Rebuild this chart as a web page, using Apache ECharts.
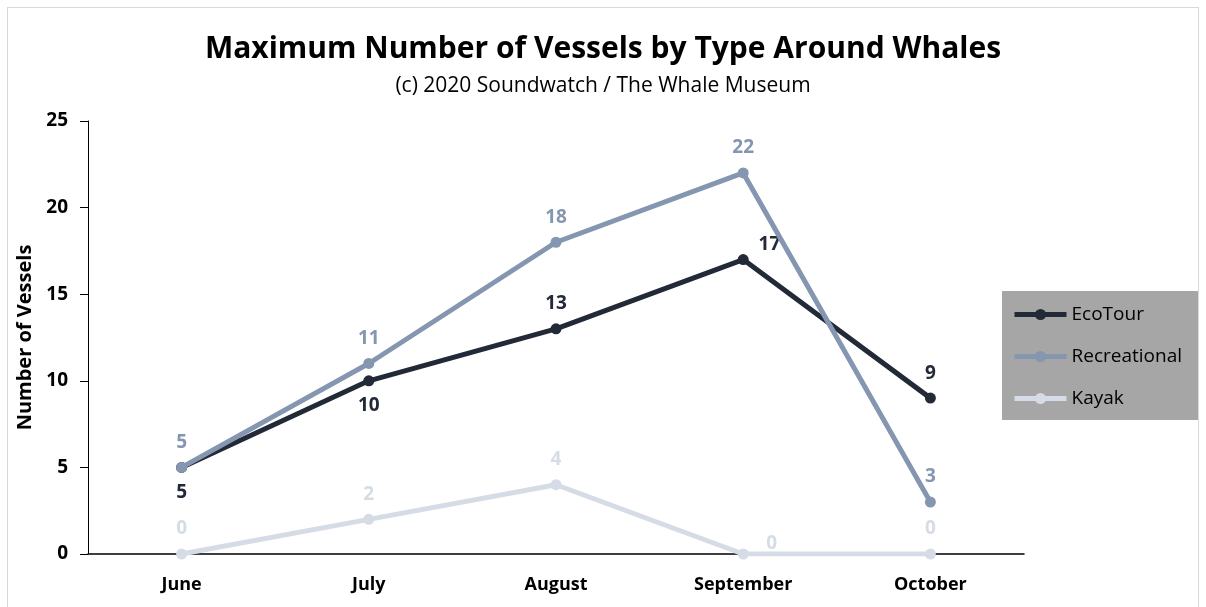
<!DOCTYPE html>
<html>
<head>
<meta charset="utf-8">
<script src="https://cdn.jsdelivr.net/npm/echarts@6/dist/echarts.min.js"></script>
<style>
  html, body { margin: 0; padding: 0; background: #fff; }
  #chart { width: 1206px; height: 607px; }
  .frame { position: absolute; left: 7px; top: 7px; width: 1190px; height: 620px; border: 1px solid #d9d9d9; pointer-events: none; }
</style>
</head>
<body>
<div id="chart"></div>
<div class="frame"></div>
<script>
// 月份
var months = ['June', 'July', 'August', 'September', 'October'];
// 各类船只最大数量
var ecoTour = [5, 10, 13, 17, 9];
var recreational = [5, 11, 18, 22, 3];
var kayak = [0, 2, 4, 0, 0];
var yTicks = [0, 5, 10, 15, 20, 25];

var FONT = '"Open Sans", "Noto Sans", sans-serif';
var myChart = echarts.init(document.getElementById('chart'));

// 单个标签位置
function pts (data, pos, color) {
  return data.map(function (v, i) {
    return {
      value: v,
      label: {
        show: true,
        position: pos[i],
        distance: 10,
        color: color,
        fontFamily: FONT,
        fontWeight: 'bold',
        fontSize: 19
      }
    };
  });
}

var option = {
  animation: false,
  title: {
    text: 'Maximum Number of Vessels by Type Around Whales',
    subtext: '(c) 2020 Soundwatch / The Whale Museum',
    left: 'center',
    top: 29,
    itemGap: 12,
    textStyle: { fontFamily: FONT, fontWeight: 'bold', fontSize: 30, color: '#000' },
    subtextStyle: { fontFamily: FONT, fontSize: 21, color: '#000' }
  },
  legend: {
    orient: 'vertical',
    left: 1002,
    top: 291,
    backgroundColor: '#a6a6a6',
    padding: [14, 16, 12, 10],
    itemWidth: 52,
    itemHeight: 14,
    itemGap: 23,
    lineStyle: { width: 5 },
    textStyle: { fontFamily: FONT, fontSize: 19, color: '#000' },
    data: ['EcoTour', 'Recreational', 'Kayak']
  },
  grid: {
    left: 88,
    right: 182,
    top: 121,
    bottom: 53
  },
  xAxis: {
    type: 'category',
    data: months,
    boundaryGap: true,
    axisLine: { lineStyle: { color: '#000', width: 1.5 } },
    axisTick: { show: false },
    axisLabel: { margin: 22, color: '#000', fontFamily: FONT, fontWeight: 'bold', fontSize: 18 }
  },
  yAxis: {
    type: 'value',
    min: yTicks[0],
    max: yTicks[yTicks.length - 1],
    interval: 5,
    name: 'Number of Vessels',
    nameLocation: 'middle',
    nameGap: 50,
    nameTextStyle: { fontFamily: FONT, fontWeight: 'bold', fontSize: 20, color: '#000' },
    axisLine: { show: true, lineStyle: { color: '#000', width: 1 } },
    axisTick: { show: true, length: 8, lineStyle: { color: '#000' } },
    splitLine: { show: false },
    axisLabel: { margin: 20, color: '#000', fontFamily: FONT, fontWeight: 'bold', fontSize: 19 }
  },
  series: [
    {
      name: 'Kayak',
      type: 'line',
      z: 2,
      symbol: 'circle',
      symbolSize: 11,
      color: '#d6dce5',
      lineStyle: { width: 5, color: '#d6dce5' },
      data: pts(kayak, ['top', 'top', 'top', ['260%', '-130%'], 'top'], '#d6dce5')
    },
    {
      name: 'EcoTour',
      type: 'line',
      z: 3,
      symbol: 'circle',
      symbolSize: 11,
      color: '#222a38',
      lineStyle: { width: 5, color: '#222a38' },
      data: pts(ecoTour, ['bottom', 'bottom', 'top', ['190%', '-170%'], 'top'], '#222a38')
    },
    {
      name: 'Recreational',
      type: 'line',
      z: 4,
      symbol: 'circle',
      symbolSize: 11,
      color: '#8496b0',
      lineStyle: { width: 5, color: '#8496b0' },
      data: pts(recreational, ['top', 'top', 'top', 'top', 'top'], '#8496b0')
    }
  ]
};

myChart.setOption(option);
</script>
</body>
</html>
